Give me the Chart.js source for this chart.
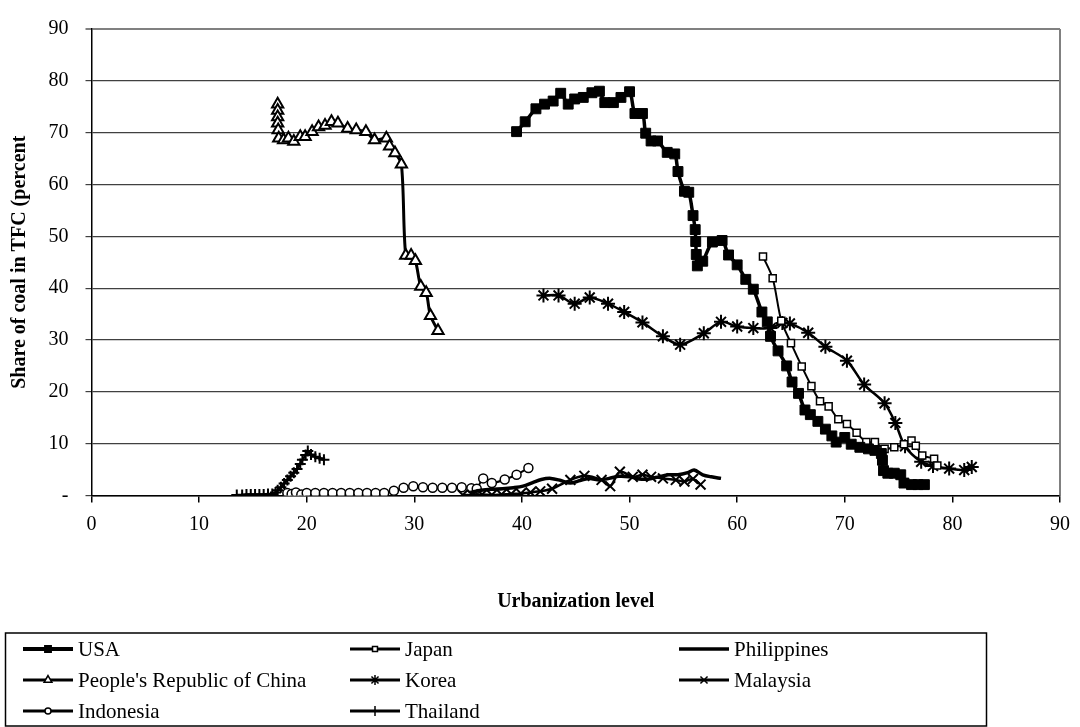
<!DOCTYPE html>
<html>
<head>
<meta charset="utf-8">
<script src="https://cdn.jsdelivr.net/npm/chart.js@4.4.1/dist/chart.umd.min.js"></script>
<style>
  html, body { margin: 0; padding: 0; background: #fff; }
  #wrap { width: 1080px; height: 727px; }
</style>
</head>
<body>
<div id="wrap"><canvas id="coal-chart" width="1080" height="727"></canvas></div>
<script>
// Share of coal in total final consumption vs. urbanization level
const xTickLabels = ['0', '10', '20', '30', '40', '50', '60', '70', '80', '90'];
const yTickLabels = ['-', '10', '20', '30', '40', '50', '60', '70', '80', '90'];

const usaX = [39.5, 40.3, 41.3, 42.1, 42.9, 43.6, 44.3, 44.9, 45.7, 46.5, 47.2, 47.7, 48.5, 49.2, 50.0,
  50.5, 51.2, 51.5, 52.0, 52.6, 53.5, 54.2, 54.5, 55.1, 55.5, 55.9, 56.1, 56.15, 56.2, 56.3, 56.8, 57.7,
  58.6, 59.2, 60.0, 60.8, 61.5, 62.3, 62.8, 63.1, 63.8, 64.6, 65.1, 65.7, 66.3, 66.8, 67.5, 68.2, 68.8,
  69.2, 70.0, 70.6, 71.4, 72.2, 72.8, 73.4, 73.5, 73.6, 74.0, 74.6, 75.2, 75.5, 76.2, 76.8, 77.4];
const usaY = [70.2, 72.1, 74.6, 75.5, 76.1, 77.6, 75.5, 76.5, 76.8, 77.7, 78.0, 75.8, 75.8, 76.8, 77.9,
  73.7, 73.7, 69.9, 68.4, 68.4, 66.2, 65.9, 62.5, 58.7, 58.5, 54.0, 51.3, 49.0, 46.5, 44.3, 45.2, 48.9,
  49.2, 46.4, 44.5, 41.7, 39.8, 35.4, 33.5, 30.7, 27.9, 25.0, 21.9, 19.7, 16.5, 15.6, 14.3, 12.8, 11.5,
  10.3, 11.2, 9.9, 9.3, 9.0, 8.7, 8.1, 6.8, 4.8, 4.3, 4.3, 4.0, 2.4, 2.1, 2.1, 2.1];

const japanX = [62.4, 63.3, 64.1, 65.0, 66.0, 66.9, 67.7, 68.5, 69.4, 70.2, 71.1, 72.0, 72.8, 73.7,
  74.6, 75.5, 76.2, 76.6, 77.2, 78.3, 78.6];
const japanY = [46.1, 41.9, 33.7, 29.4, 24.9, 21.1, 18.2, 17.2, 14.7, 13.8, 12.1, 10.3, 10.3, 9.0,
  9.3, 9.9, 10.6, 9.6, 7.7, 7.1, 5.8];

const philippinesX = [35.2, 36.2, 37.2, 38.2, 39.2, 40.1, 41.0, 41.8, 42.7, 43.6, 44.5, 45.4, 46.3,
  47.2, 48.1, 49.0, 50.0, 50.9, 51.8, 52.7, 53.6, 54.5, 55.4, 56.0, 56.8, 57.6, 58.5];
const philippinesY = [0.6, 1.0, 1.2, 1.3, 1.5, 1.8, 2.5, 3.1, 3.3, 2.9, 2.4, 2.9, 3.3,
  3.0, 3.3, 3.7, 3.6, 3.2, 3.2, 3.6, 4.0, 4.0, 4.4, 4.9, 4.0, 3.6, 3.3];

const chinaX = [17.3, 17.3, 17.3, 17.3, 17.35, 17.4, 17.85, 18.3, 18.8, 19.4, 19.85, 20.5, 21.1, 21.7,
  22.3, 22.9, 23.8, 24.6, 25.5, 26.3, 27.4, 27.7, 28.2, 28.8, 29.2, 29.7, 30.1, 30.6, 31.1, 31.5, 32.2];
const chinaY = [75.5, 74.3, 73.0, 71.8, 70.5, 68.9, 68.6, 68.9, 68.3, 69.2, 69.2, 70.2, 71.1, 71.4,
  72.1, 71.8, 70.8, 70.5, 70.2, 68.6, 68.9, 67.4, 66.1, 63.9, 46.3, 46.3, 45.3, 40.3, 39.1, 34.7, 31.8];

const koreaX = [42.0, 43.4, 44.9, 46.3, 48.0, 49.5, 51.2, 53.1, 54.7, 56.9, 58.5, 60.0, 61.5, 63.1,
  64.2, 64.9, 66.6, 68.2, 70.2, 71.8, 73.7, 74.7, 75.6, 77.1, 78.2, 79.7, 81.1, 81.8];
const koreaY = [38.6, 38.6, 37.0, 38.2, 37.0, 35.4, 33.4, 30.7, 29.1, 31.3, 33.5, 32.6, 32.3, 32.3,
  33.3, 33.2, 31.4, 28.7, 26.0, 21.4, 17.8, 14.0, 9.5, 6.5, 5.7, 5.2, 4.9, 5.5];

const malaysiaX = [34.5, 35.4, 36.3, 37.2, 38.1, 39.0, 39.9, 40.8, 41.7, 42.8, 44.5, 45.8, 47.4, 48.2,
  49.1, 50.3, 51.2, 52.0, 53.1, 54.3, 55.1, 55.9, 56.6];
const malaysiaY = [0.1, 0.1, 0.2, 0.1, 0.2, 0.3, 0.4, 0.6, 0.8, 1.3, 3.0, 3.8, 3.0, 1.8,
  4.6, 3.6, 4.0, 3.6, 3.3, 3.0, 2.7, 3.2, 2.1];

const indonesiaX = [18.2, 18.6, 19.0, 19.5, 20.0, 20.8, 21.6, 22.4, 23.2, 24.0, 24.8, 25.6, 26.4, 27.2,
  28.1, 29.0, 29.9, 30.8, 31.7, 32.6, 33.5, 34.4, 35.3, 35.8, 36.4, 37.2, 38.4, 39.5, 40.6];
const indonesiaY = [0.5, 0.3, 0.6, 0.2, 0.5, 0.5, 0.5, 0.5, 0.5, 0.5, 0.5, 0.5, 0.5, 0.5,
  0.9, 1.5, 1.8, 1.6, 1.5, 1.5, 1.5, 1.6, 1.4, 1.3, 3.3, 2.4, 3.1, 4.0, 5.3];

const thailandX = [13.5, 14.0, 14.4, 14.8, 15.2, 15.6, 16.0, 16.4, 16.8, 17.1, 17.3, 17.6, 17.9, 18.2,
  18.5, 18.8, 19.1, 19.4, 19.6, 19.9, 20.1, 20.4, 20.8, 21.2, 21.6];
const thailandY = [0.1, 0.1, 0.2, 0.2, 0.2, 0.2, 0.2, 0.3, 0.3, 0.6, 1.0, 1.6, 2.3, 3.0,
  3.7, 4.4, 5.1, 6.1, 6.9, 7.8, 8.6, 7.9, 7.5, 7.2, 6.9];

function toPoints(xs, ys) {
  return xs.map((x, i) => ({ x: x, y: ys[i] }));
}

// line + marker look for each country, the same order the legend uses
function seriesStyle(label, points, lineWidth, style, radius, fill, markerWidth) {
  return {
    label: label,
    data: points,
    borderColor: '#000',
    borderWidth: lineWidth,
    tension: 0.3,
    fill: false,
    pointStyle: style || 'circle',
    pointRadius: radius,
    pointBackgroundColor: fill,
    pointBorderColor: '#000',
    pointBorderWidth: markerWidth
  };
}

const datasets = [
  seriesStyle('USA', toPoints(usaX, usaY), 3.5, 'rect', 7, '#000', 1),
  seriesStyle('Japan', toPoints(japanX, japanY), 2, 'rect', 5, '#fff', 1.5),
  seriesStyle('Philippines', toPoints(philippinesX, philippinesY), 3.5, false, 0, '#000', 0),
  seriesStyle("People's Republic of China", toPoints(chinaX, chinaY), 3, 'triangle', 6.5, '#fff', 2),
  seriesStyle('Korea', toPoints(koreaX, koreaY), 2.5, 'star', 7, '#000', 2),
  seriesStyle('Malaysia', toPoints(malaysiaX, malaysiaY), 2.5, 'crossRot', 7, '#000', 2),
  seriesStyle('Indonesia', toPoints(indonesiaX, indonesiaY), 2, 'circle', 4.5, '#fff', 1.5),
  seriesStyle('Thailand', toPoints(thailandX, thailandY), 2.5, 'cross', 5.5, '#000', 2)
];

// legend entries: small markers on a short line, three per row
const legendLines = [4, 3, 3.5, 3, 3, 3, 3, 3];
const legendRadius = [4.5, 3.5, 0, 4.5, 5, 5, 3, 5];
const legendCols = [23, 350, 679];
const legendRows = [649, 680, 711];

const framePlugin = {
  id: 'frame',
  beforeDatasetsDraw(chart) {
    const { ctx, chartArea } = chart;
    ctx.save();
    ctx.strokeStyle = '#808080';
    ctx.lineWidth = 2;
    ctx.beginPath();
    ctx.moveTo(chartArea.right, chartArea.top);
    ctx.lineTo(chartArea.right, chartArea.bottom);
    ctx.stroke();
    ctx.restore();
  },
  afterDraw(chart) {
    const ctx = chart.ctx;
    ctx.save();
    ctx.strokeStyle = '#000';
    ctx.lineWidth = 1.5;
    ctx.strokeRect(5.5, 633, 981, 93);
    ctx.font = '21px "Liberation Serif", "Times New Roman", serif';
    ctx.textBaseline = 'middle';
    chart.data.datasets.forEach((ds, i) => {
      const x = legendCols[i % 3];
      const y = legendRows[Math.floor(i / 3)];
      ctx.strokeStyle = '#000';
      ctx.lineWidth = legendLines[i];
      ctx.beginPath();
      ctx.moveTo(x, y);
      ctx.lineTo(x + 50, y);
      ctx.stroke();
      if (legendRadius[i] > 0) {
        ctx.fillStyle = ds.pointBackgroundColor;
        ctx.strokeStyle = '#000';
        ctx.lineWidth = 1.5;
        Chart.helpers.drawPoint(ctx, {
          pointStyle: ds.pointStyle, radius: legendRadius[i], borderWidth: 1.5, rotation: 0
        }, x + 25, y);
      }
      ctx.fillStyle = '#000';
      ctx.fillText(ds.label, x + 55, y + 1);
    });
    ctx.restore();
  }
};

Chart.defaults.font.family = '"Liberation Serif", "Times New Roman", serif';
Chart.defaults.color = '#000';

new Chart(document.getElementById('coal-chart'), {
  type: 'line',
  data: { datasets: datasets },
  plugins: [framePlugin],
  options: {
    responsive: false,
    animation: false,
    events: [],
    layout: { padding: { left: 0, right: 13, top: 19, bottom: 0 } },
    plugins: {
      legend: { display: false },
      tooltip: { enabled: false }
    },
    scales: {
      x: {
        type: 'linear',
        min: 0,
        max: 90,
        ticks: {
          stepSize: 10,
          padding: 10,
          maxRotation: 0,
          font: { size: 20 },
          callback: (v) => xTickLabels[Math.round(v / 10)]
        },
        grid: { drawOnChartArea: false, drawTicks: true, tickLength: 7, color: '#000', lineWidth: 1.5 },
        border: { color: '#000', width: 1.5 },
        title: {
          display: true,
          text: 'Urbanization level',
          font: { size: 20, weight: 'bold' },
          padding: { top: 0, bottom: 113 }
        },
        afterFit: (scale) => { scale.height = 231.5; }
      },
      y: {
        type: 'linear',
        min: 0,
        max: 90,
        ticks: {
          stepSize: 10,
          padding: 17,
          font: { size: 20 },
          callback: (v) => yTickLabels[Math.round(v / 10)]
        },
        grid: {
          color: (c) => (c.tick && c.tick.value === 90 ? '#808080' : '#404040'),
          lineWidth: (c) => (c.tick && c.tick.value === 90 ? 2 : 1.2),
          tickLength: 6
        },
        border: { color: '#000', width: 1.5 },
        title: {
          display: true,
          text: 'Share of coal in TFC (percent',
          font: { size: 20, weight: 'bold' },
          padding: { top: 8, bottom: 0 }
        },
        afterFit: (scale) => { scale.width = 91.5; }
      }
    }
  }
});
</script>
</body>
</html>
